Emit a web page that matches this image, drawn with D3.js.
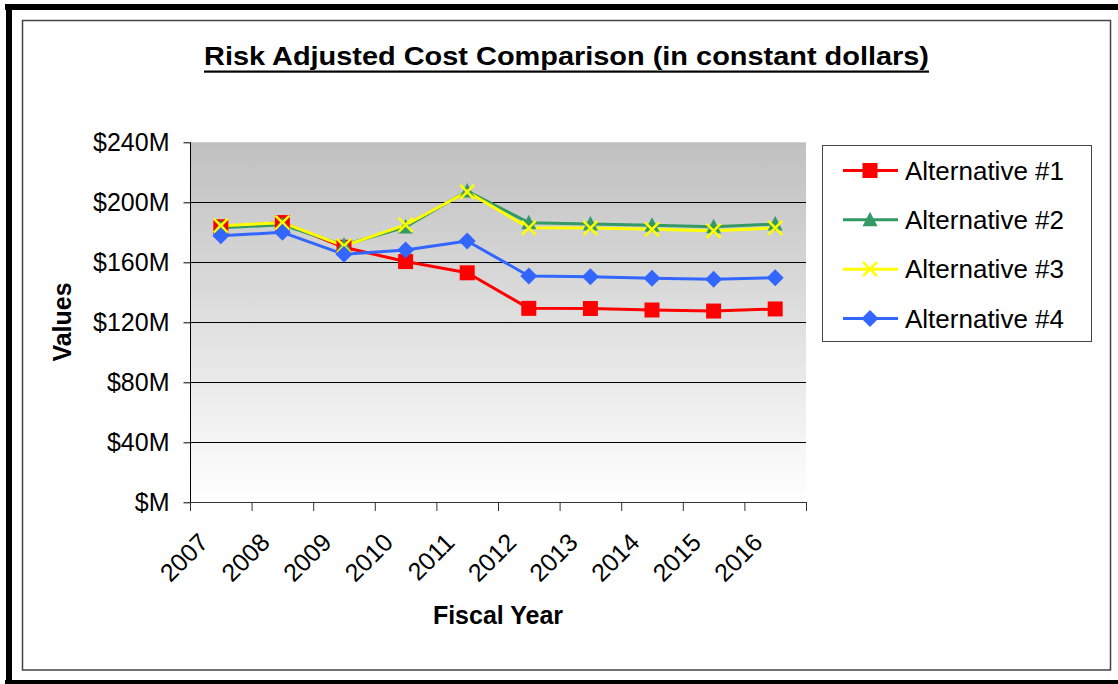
<!DOCTYPE html>
<html>
<head>
<meta charset="utf-8">
<script src="https://cdn.jsdelivr.net/npm/d3@7"></script>
<style>
  html, body { margin: 0; padding: 0; background: #fff; }
  svg { display: block; font-family: "Liberation Sans", Arial, sans-serif; }
</style>
</head>
<body>
<svg id="chart" width="1118" height="684"></svg>
<script>
// Fiscal years on the category axis
const years = ["2007", "2008", "2009", "2010", "2011", "2012", "2013", "2014", "2015", "2016"];

// Risk adjusted cost per alternative, in $M (constant dollars)
const alt1 = [183.7, 186.5, 170.0, 160.5, 153.0, 129.3, 129.2, 128.2, 127.5, 128.9];
const alt2 = [183.0, 185.0, 171.5, 183.5, 207.5, 186.4, 185.6, 184.7, 183.7, 185.5];
const alt3 = [184.4, 186.4, 171.0, 184.9, 207.0, 183.0, 182.8, 182.0, 181.0, 182.9];
const alt4 = [177.7, 180.0, 165.3, 168.2, 174.2, 150.9, 150.4, 149.3, 148.7, 149.7];

const seriesNames = ["Alternative #1", "Alternative #2", "Alternative #3", "Alternative #4"];
const yTicks = [0, 40, 80, 120, 160, 200, 240];

const series = [
  { name: seriesNames[0], values: alt1, color: "#ff0000", marker: "square" },
  { name: seriesNames[1], values: alt2, color: "#339966", marker: "triangle" },
  { name: seriesNames[2], values: alt3, color: "#ffff00", marker: "cross" },
  { name: seriesNames[3], values: alt4, color: "#3366ff", marker: "diamond" }
];

const svg = d3.select("#chart");

// Outer frame with heavy edges
svg.append("rect").attr("x", 5).attr("y", 4).attr("width", 1113).attr("height", 6).attr("fill", "#000");
svg.append("rect").attr("x", 6).attr("y", 4).attr("width", 6).attr("height", 680).attr("fill", "#000");
svg.append("rect").attr("x", 5).attr("y", 680).attr("width", 1113).attr("height", 4).attr("fill", "#000");
// Inner chart-area border
svg.append("rect").attr("x", 22.5).attr("y", 20.5).attr("width", 1088).attr("height", 649.5)
  .attr("fill", "#fff").attr("stroke", "#444").attr("stroke-width", 1.5);

const plot = { left: 190, right: 806, top: 142.3, bottom: 502.3 };

const x = d3.scaleBand().domain(years).range([plot.left, plot.right]).paddingInner(0).paddingOuter(0);
const y = d3.scaleLinear().domain([0, 240]).range([plot.bottom, plot.top]);
const cx = d => x(d) + x.bandwidth() / 2;

// Plot background gradient
const defs = svg.append("defs");
const grad = defs.append("linearGradient").attr("id", "plotBg")
  .attr("x1", 0).attr("y1", 0).attr("x2", 0).attr("y2", 1);
grad.append("stop").attr("offset", "0%").attr("stop-color", "#c0c0c0");
grad.append("stop").attr("offset", "100%").attr("stop-color", "#ffffff");

svg.append("rect")
  .attr("x", plot.left).attr("y", y(240))
  .attr("width", plot.right - plot.left).attr("height", y(0) - y(240))
  .attr("fill", "url(#plotBg)");

// Horizontal gridlines
svg.append("g").selectAll("line")
  .data(yTicks.filter(t => t > 0 && t < 240))
  .join("line")
  .attr("x1", plot.left).attr("x2", plot.right)
  .attr("y1", d => Math.round(y(d)) + 0.5).attr("y2", d => Math.round(y(d)) + 0.5)
  .attr("stroke", "#000").attr("stroke-width", 1);

// Y axis
const yAxis = d3.axisLeft(y).tickValues(yTicks).tickSize(7).tickPadding(14)
  .tickFormat(d => d === 0 ? "$M" : "$" + d + "M");
const gy = svg.append("g").attr("transform", `translate(${plot.left + 0.5},0)`).call(yAxis);
gy.select(".domain").attr("stroke", "#000").attr("d", `M-0,${y(240)}V${y(0)}`);
gy.selectAll(".tick line").attr("stroke", "#000");
gy.selectAll(".tick text").attr("font-size", 25).attr("fill", "#000")
  .attr("font-family", "Liberation Sans, Arial, sans-serif").attr("dy", "0.33em");

// X axis: ticks at category boundaries
const gx = svg.append("g");
gx.append("line")
  .attr("x1", plot.left).attr("x2", plot.right)
  .attr("y1", Math.round(y(0)) + 0.5).attr("y2", Math.round(y(0)) + 0.5)
  .attr("stroke", "#333").attr("stroke-width", 1.2);
const boundaries = years.map(d => x(d)).concat([plot.right]);
gx.selectAll("line.tick").data(boundaries).join("line").attr("class", "tick")
  .attr("x1", d => d + 0.5).attr("x2", d => d + 0.5)
  .attr("y1", Math.round(y(0))).attr("y2", Math.round(y(0)) + 9)
  .attr("stroke", "#333");
gx.selectAll("text").data(years).join("text")
  .attr("transform", d => `translate(${cx(d) - 11},544) rotate(-45)`)
  .attr("text-anchor", "end")
  .attr("font-size", 25).attr("fill", "#000")
  .text(d => d);

// Series lines
const line = d3.line().x((v, i) => cx(years[i])).y(v => y(v));
svg.append("g").selectAll("path").data(series).join("path")
  .attr("d", s => line(s.values))
  .attr("fill", "none").attr("stroke", d => d.color).attr("stroke-width", 3)
  .attr("stroke-linejoin", "round");

// Markers
function drawMarker(g, type, color) {
  if (type === "square") {
    g.append("rect").attr("x", -7.5).attr("y", -7.5).attr("width", 15).attr("height", 15).attr("fill", color);
  } else if (type === "triangle") {
    g.append("path").attr("d", "M0,-8L7.5,6.5L-7.5,6.5Z").attr("fill", color);
  } else if (type === "cross") {
    g.append("path").attr("d", "M-7,-7L7,7M-7,7L7,-7").attr("stroke", color).attr("stroke-width", 2.6).attr("fill", "none");
  } else if (type === "diamond") {
    g.append("path").attr("d", "M0,-8.5L8.5,0L0,8.5L-8.5,0Z").attr("fill", color);
  }
}

series.forEach(s => {
  const g = svg.append("g");
  s.values.forEach((v, i) => {
    const m = g.append("g").attr("transform", `translate(${cx(years[i])},${y(v)})`);
    drawMarker(m, s.marker, s.color);
  });
});

// Title
const titleText = "Risk Adjusted Cost Comparison (in constant dollars)";
svg.append("text")
  .attr("x", 204).attr("y", 65)
  .attr("font-size", 26).attr("font-weight", "bold").attr("fill", "#000")
  .attr("textLength", 725).attr("lengthAdjust", "spacingAndGlyphs")
  .text(titleText);
svg.append("rect").attr("x", 204).attr("y", 70.5).attr("width", 725).attr("height", 2.2).attr("fill", "#000");

// Axis titles
svg.append("text")
  .attr("x", 498).attr("y", 624).attr("text-anchor", "middle")
  .attr("font-size", 25).attr("font-weight", "bold").attr("fill", "#000")
  .text("Fiscal Year");
svg.append("text")
  .attr("transform", "translate(71,322) rotate(-90)").attr("text-anchor", "middle")
  .attr("font-size", 25).attr("font-weight", "bold").attr("fill", "#000")
  .text("Values");

// Legend
const legend = svg.append("g");
legend.append("rect").attr("x", 822.5).attr("y", 145.5).attr("width", 269).attr("height", 196)
  .attr("fill", "#fff").attr("stroke", "#444").attr("stroke-width", 1);
const legendY = d3.scalePoint().domain(seriesNames).range([170.5, 318.5]);
series.forEach(s => {
  const ly = legendY(s.name);
  legend.append("line").attr("x1", 843).attr("x2", 898).attr("y1", ly).attr("y2", ly)
    .attr("stroke", s.color).attr("stroke-width", 3);
  const m = legend.append("g").attr("transform", `translate(870,${ly})`);
  drawMarker(m, s.marker, s.color);
  legend.append("text").attr("x", 905).attr("y", ly).attr("dy", "0.35em")
    .attr("font-size", 26).attr("fill", "#000").text(s.name);
});
</script>
</body>
</html>
